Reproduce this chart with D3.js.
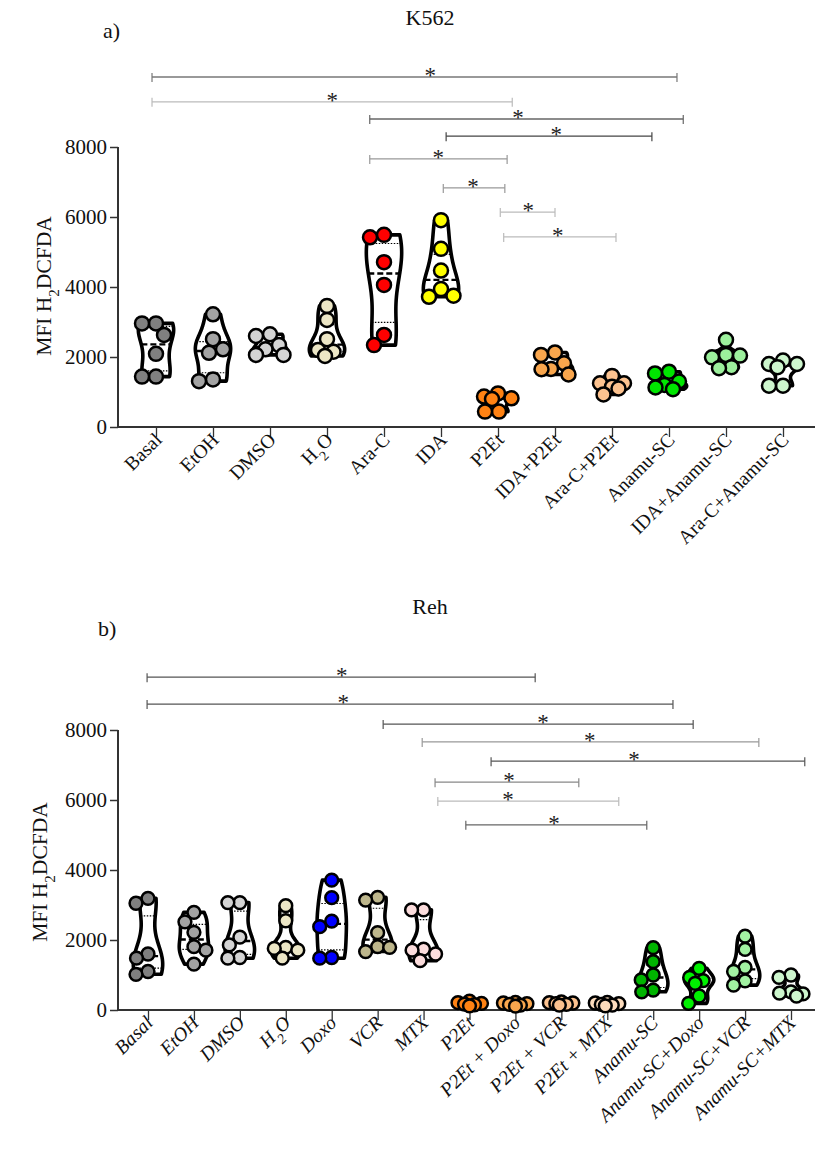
<!DOCTYPE html>
<html>
<head>
<meta charset="utf-8">
<script src="https://cdn.jsdelivr.net/npm/d3@7"></script>
<style>
  body { margin: 0; background: #fff; }
  svg { display: block; font-family: "Liberation Serif", "Times New Roman", serif; }
</style>
</head>
<body>
<svg width="815" height="1152"></svg>
<script>
// ---- panel a) K562 ----
const k562Groups = ["Basal", "EtOH", "DMSO", "H2O", "Ara-C", "IDA", "P2Et", "IDA+P2Et",
  "Ara-C+P2Et", "Anamu-SC", "IDA+Anamu-SC", "Ara-C+Anamu-SC"];
const k562Values = [
  [2960, 2960, 2630, 2090, 1440, 1440],
  [3220, 2510, 2220, 2120, 1360, 1310],
  [2650, 2600, 2340, 2220, 2060, 2060],
  [3460, 3060, 2510, 2200, 2150, 2030],
  [5490, 5420, 4710, 4060, 2630, 2340],
  [5910, 5090, 4470, 3940, 3750, 3720],
  [960, 870, 820, 800, 440, 440],
  [2130, 2060, 1820, 1660, 1650, 1500],
  [1460, 1250, 1250, 1150, 1100, 930],
  [1580, 1530, 1300, 1200, 1130, 1080],
  [2490, 2060, 2040, 1990, 1710, 1680],
  [1900, 1800, 1800, 1710, 1180, 1180]
];
const k562Colors = ["#808080", "#a3a3a3", "#d4d4d4", "#ece6c6", "#ff0000", "#ffff00",
  "#ff8213", "#f9a64d", "#fcc28f", "#00e600", "#9cf09c", "#cdf6cd"];
// brackets: [from, to, level, star] -- from/to/star in category-index units, level in MFI units
const k562Brackets = [
  [-0.07, 9.14, 10000, 4.81],
  [-0.07, 6.25, 9290, 3.09],
  [3.75, 9.25, 8800, 6.35],
  [5.09, 8.70, 8310, 7.02],
  [3.75, 6.16, 7660, 4.95],
  [5.04, 6.12, 6830, 5.56],
  [6.04, 7.00, 6140, 6.53],
  [6.10, 8.07, 5430, 7.05]
];
const k562BracketGrey = ["#777", "#bbb", "#666", "#444", "#999", "#999", "#bbb", "#bbb"];

// ---- panel b) Reh ----
const rehGroups = ["Basal", "EtOH", "DMSO", "H2O", "Doxo", "VCR", "MTX", "P2Et",
  "P2Et + Doxo", "P2Et + VCR", "P2Et + MTX", "Anamu-SC", "Anamu-SC+Doxo",
  "Anamu-SC+VCR", "Anamu-SC+MTX"];
const rehValues = [
  [3190, 3050, 1600, 1480, 1100, 1020],
  [2790, 2520, 2220, 1810, 1710, 1310],
  [3070, 3070, 2080, 1860, 1500, 1480],
  [2980, 2550, 1790, 1760, 1710, 1480],
  [3710, 3210, 2540, 2380, 1500, 1480],
  [3220, 3140, 2210, 1810, 1790, 1670],
  [2860, 2860, 1740, 1710, 1600, 1410],
  [250, 210, 190, 170, 150, 120],
  [220, 200, 180, 160, 140, 110],
  [230, 210, 200, 180, 160, 140],
  [220, 200, 180, 160, 140, 120],
  [1780, 1380, 1000, 860, 570, 520],
  [1190, 930, 840, 760, 400, 190],
  [2110, 1730, 1220, 1100, 830, 710],
  [1000, 930, 520, 480, 460, 400]
];
const rehColors = ["#808080", "#a3a3a3", "#d4d4d4", "#ece6c6", "#0000ff", "#bdb68c", "#fbdcdc",
  "#ff8213", "#f9a64d", "#fcc28f", "#fddcbd", "#00b400", "#00f000", "#a2f2a2", "#cdf6cd"];
const rehBrackets = [
  [-0.02, 8.43, 9510, 4.22],
  [-0.02, 11.43, 8740, 4.25],
  [5.12, 11.87, 8170, 8.60],
  [5.97, 13.30, 7660, 9.62],
  [7.47, 14.30, 7110, 10.58],
  [6.25, 9.38, 6510, 7.86],
  [6.31, 10.25, 5970, 7.84],
  [6.92, 10.86, 5290, 8.84]
];
const rehBracketGrey = ["#555", "#555", "#555", "#999", "#555", "#888", "#bbb", "#666"];

const yTicks = [0, 2000, 4000, 6000, 8000];

const svg = d3.select("svg");

// gaussian kde over a value range
function kde(values, n) {
  const sd = d3.deviation(values);
  const sorted = values.slice().sort(d3.ascending);
  const iqr = d3.quantile(sorted, 0.75) - d3.quantile(sorted, 0.25);
  const h = 0.85 * Math.min(sd, iqr / 1.34 || sd) * Math.pow(values.length, -0.2);
  const lo = d3.min(values), hi = d3.max(values);
  return d3.range(n + 1).map(i => {
    const v = lo + (hi - lo) * i / n;
    const dens = d3.sum(values, x => Math.exp(-0.5 * ((v - x) / h) ** 2));
    return [v, dens];
  });
}

// bounded beeswarm, in pixels
function swarm(ys, r, maxOff) {
  const placed = [];
  const order = ys.map((y, i) => i).sort((a, b) => ys[a] - ys[b]);
  const out = new Array(ys.length);
  order.forEach((idx, k) => {
    const y = ys[idx];
    let best = null, bestScore = -1;
    const cands = [0];
    for (let s = 1; s <= maxOff; s += 0.5) {
      if (k % 2) cands.push(-s, s); else cands.push(s, -s);
    }
    for (const x of cands) {
      const md = d3.min(placed, p => Math.hypot(p[0] - x, p[1] - y));
      if (md === undefined || md >= 2 * r) { best = x; break; }
      if (md > bestScore + 0.5) { bestScore = md; best = x; }
    }
    placed.push([best, y]);
    out[idx] = best;
  });
  return out;
}

function panel(cfg) {
  const g = svg.append("g");
  const x = d3.scalePoint().domain(cfg.groups).range(cfg.xRange);
  const xi = d3.scaleLinear().domain([0, cfg.groups.length - 1]).range(cfg.xRange);
  const y = d3.scaleLinear().domain([0, 8000]).range(cfg.yRange);
  const step = x.step();
  const half = step * cfg.widthFrac;

  // axes
  g.append("line")
    .attr("x1", cfg.axisX).attr("x2", cfg.axisX)
    .attr("y1", y(0)).attr("y2", y(8000))
    .attr("stroke", "#333").attr("stroke-width", 2);
  g.append("line")
    .attr("x1", cfg.axisX).attr("x2", 815)
    .attr("y1", y(0)).attr("y2", y(0))
    .attr("stroke", "#333").attr("stroke-width", 2);

  const yAxis = g.append("g").attr("transform", `translate(${cfg.axisX},0)`)
    .call(d3.axisLeft(y).tickValues(yTicks).tickSize(8).tickPadding(3).tickFormat(d3.format("d")));
  yAxis.select(".domain").remove();
  yAxis.selectAll("line").attr("stroke", "#333").attr("stroke-width", 1.5);
  yAxis.selectAll("text").attr("fill", "#111").style("font-size", "21px")
    .style("font-family", "'Liberation Serif', serif");

  const xAxis = g.append("g").attr("transform", `translate(0,${y(0)})`)
    .call(d3.axisBottom(x).tickSize(10).tickFormat(""));
  xAxis.select(".domain").remove();
  xAxis.selectAll("line").attr("stroke", "#333").attr("stroke-width", 1.3);

  // rotated category labels
  const lab = g.selectAll(".xlab").data(cfg.groups).enter().append("text")
    .attr("class", "xlab")
    .attr("transform", d => `translate(${x(d) + cfg.labDx},${y(0) + cfg.labDy}) rotate(-45)`)
    .attr("text-anchor", "end")
    .style("font-size", "19.5px")
    .style("font-style", cfg.italic ? "italic" : "normal")
    .attr("fill", "#111");
  lab.each(function (d) {
    const t = d3.select(this);
    if (d === "H2O") {
      t.append("tspan").text("H");
      t.append("tspan").text("2").attr("baseline-shift", "sub").style("font-size", "14px");
      t.append("tspan").text("O");
    } else t.text(d);
  });

  // y label
  const yl = g.append("text")
    .attr("transform", `translate(${cfg.yLabX},${cfg.yLabY}) rotate(-90)`)
    .attr("text-anchor", "middle").style("font-size", "21.5px").attr("fill", "#111");
  yl.append("tspan").text("MFI H");
  yl.append("tspan").text("2").attr("baseline-shift", "sub").style("font-size", "15px");
  yl.append("tspan").text("DCFDA");

  // titles
  g.append("text").attr("x", cfg.titleX).attr("y", cfg.titleY).attr("text-anchor", "middle")
    .style("font-size", "22px").attr("fill", "#111").text(cfg.title);
  g.append("text").attr("x", cfg.tagX).attr("y", cfg.tagY)
    .style("font-size", "22px").attr("fill", "#111").text(cfg.tag);

  // significance brackets
  cfg.brackets.forEach((b, i) => {
    const x1 = xi(b[0]), x2 = xi(b[1]), yy = y(b[2]);
    const col = cfg.bracketGrey[i];
    g.append("line").attr("x1", x1).attr("x2", x2).attr("y1", yy).attr("y2", yy)
      .attr("stroke", col).attr("stroke-width", 1.3);
    [x1, x2].forEach(xx => g.append("line").attr("x1", xx).attr("x2", xx)
      .attr("y1", yy - 4).attr("y2", yy + 5).attr("stroke", col).attr("stroke-width", 1.2));
    g.append("text")
      .attr("transform", `translate(${xi(b[3])},${yy + 6}) rotate(0.01)`)
      .attr("text-anchor", "middle")
      .style("font-size", "23px").attr("fill", "#222").text("*");
  });

  // violins
  const area = d3.area()
    .x0(d => -d[1]).x1(d => d[1]).y(d => y(d[0]))
    .curve(d3.curveCatmullRom);
  cfg.groups.forEach((grp, i) => {
    const vals = cfg.values[i];
    const dens = kde(vals, 60);
    const mx = d3.max(dens, d => d[1]);
    const shape = dens.map(d => [d[0], d[1] / mx * half]);
    const vg = g.append("g").attr("transform", `translate(${x(grp)},0)`);
    vg.append("path").attr("d", area(shape))
      .attr("fill", "#fff").attr("stroke", "#000").attr("stroke-width", 3.6)
      .attr("stroke-linejoin", "round");
    const sorted = vals.slice().sort(d3.ascending);
    const widthAt = v => {
      const j = d3.minIndex(shape, d => Math.abs(d[0] - v));
      return shape[j][1];
    };
    [0.25, 0.75].forEach(q => {
      const v = d3.quantile(sorted, q), w = widthAt(v);
      vg.append("line").attr("x1", -w).attr("x2", w).attr("y1", y(v)).attr("y2", y(v))
        .attr("stroke", "#000").attr("stroke-width", 1.2).attr("stroke-dasharray", "1.5,1.5");
    });
    const med = d3.median(vals), wm = widthAt(med);
    vg.append("line").attr("x1", -wm).attr("x2", wm).attr("y1", y(med)).attr("y2", y(med))
      .attr("stroke", "#000").attr("stroke-width", 2.4).attr("stroke-dasharray", "6,3");

    const ys = vals.map(v => y(v));
    const offs = swarm(ys, cfg.r, half * 0.82);
    vg.selectAll("circle").data(vals).enter().append("circle")
      .attr("cx", (d, k) => offs[k]).attr("cy", d => y(d)).attr("r", cfg.r)
      .attr("fill", cfg.colors[i]).attr("stroke", "#000").attr("stroke-width", 2.5);
  });
}

panel({
  groups: k562Groups, values: k562Values, colors: k562Colors,
  brackets: k562Brackets, bracketGrey: k562BracketGrey,
  xRange: [156, 783], yRange: [427, 147], axisX: 118, widthFrac: 0.31, r: 7,
  labDx: 7, labDy: 14, italic: false,
  yLabX: 51, yLabY: 286, title: "K562", titleX: 430, titleY: 25, tag: "a)", tagX: 103, tagY: 38
});
panel({
  groups: rehGroups, values: rehValues, colors: rehColors,
  brackets: rehBrackets, bracketGrey: rehBracketGrey,
  xRange: [148, 791], yRange: [1010, 730], axisX: 118, widthFrac: 0.32, r: 6.4,
  labDx: 6, labDy: 14, italic: true,
  yLabX: 47, yLabY: 872, title: "Reh", titleX: 430, titleY: 614, tag: "b)", tagX: 98, tagY: 636
});
</script>
</body>
</html>
